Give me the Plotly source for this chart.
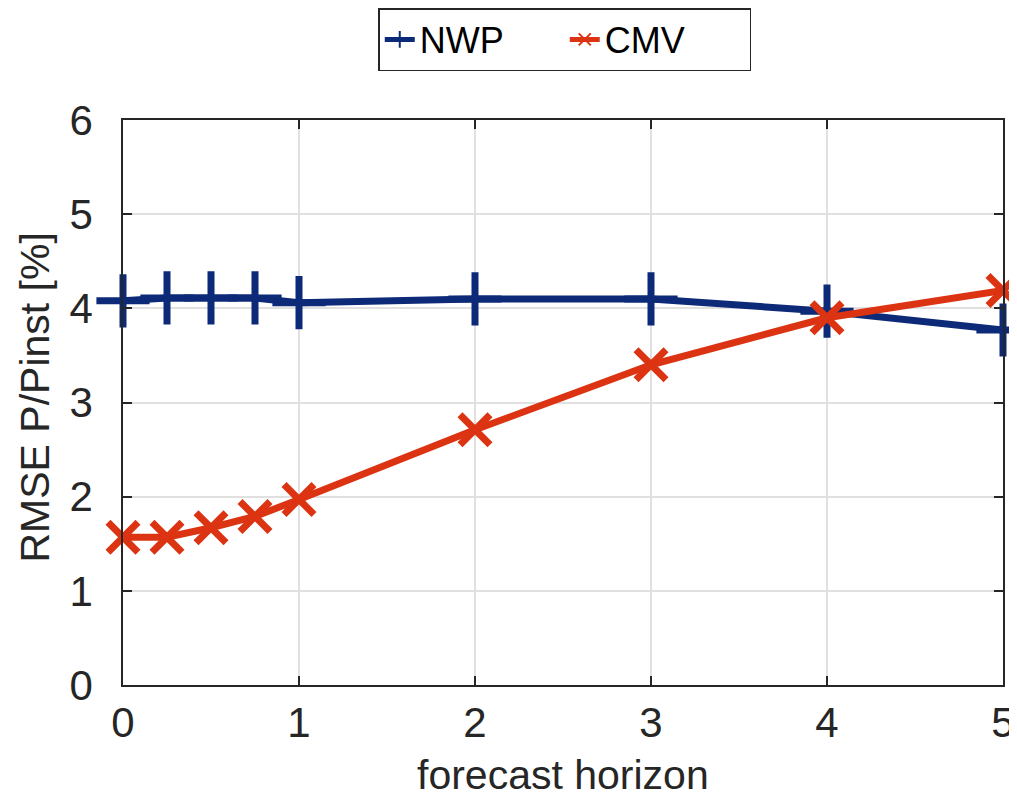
import plotly.graph_objects as go

horizon = [0, 0.25, 0.5, 0.75, 1, 2, 3, 4, 5]
nwp = [4.08, 4.11, 4.11, 4.11, 4.06, 4.10, 4.10, 3.97, 3.77]
cmv = [1.57, 1.57, 1.67, 1.79, 1.97, 2.71, 3.40, 3.90, 4.19]

NWP_C = "#0d2a78"
CMV_C = "#dc3412"
FONT = "Liberation Sans, Arial, sans-serif"

fig = go.Figure()
fig.add_trace(go.Scatter(
    x=horizon, y=nwp, name="NWP", mode="lines+markers",
    line=dict(color=NWP_C, width=7),
    marker=dict(symbol="cross-thin", size=38, line=dict(color=NWP_C, width=7)),
    cliponaxis=False,
))
fig.add_trace(go.Scatter(
    x=horizon, y=cmv, name="CMV", mode="lines+markers",
    line=dict(color=CMV_C, width=7),
    marker=dict(symbol="x-thin", size=30, line=dict(color=CMV_C, width=7)),
    cliponaxis=False,
))

axis_common = dict(
    showline=True, linecolor="#262626", linewidth=1.5, mirror="ticks",
    ticks="inside", ticklen=9, tickwidth=1.5, tickcolor="#262626",
    showgrid=True, gridcolor="#e0e0e0", gridwidth=1.5, zeroline=False,
    tickfont=dict(family=FONT, size=42, color="#262626"),
    automargin=False,
)

fig.update_layout(
    width=1009, height=790,
    margin=dict(l=115, r=14, t=112, b=113),
    paper_bgcolor="white", plot_bgcolor="white",
    font=dict(family=FONT, color="#262626"),
    showlegend=True,
    legend=dict(
        orientation="h", x=0.502, xanchor="center", y=1.0, yanchor="top",
        yref="container", font=dict(family=FONT, size=36, color="black"),
        bordercolor="#262626", borderwidth=1.5, bgcolor="white",
        itemsizing="constant", tracegroupgap=0, entrywidth=140,
    ),
    xaxis=dict(range=[0, 5], tickvals=[0, 1, 2, 3, 4, 5], ticklabelstandoff=0,
               **axis_common),
    yaxis=dict(range=[0, 6], tickvals=[0, 1, 2, 3, 4, 5, 6], ticklabelstandoff=20,
               **axis_common),
    annotations=[
        dict(text="forecast horizon", xref="paper", yref="paper", x=0.5, y=0,
             xanchor="center", yanchor="middle", yshift=-90, showarrow=False,
             font=dict(family=FONT, size=41, color="#262626")),
        dict(text="RMSE P/Pinst [%]", xref="paper", yref="paper", x=0, y=0.5,
             xanchor="center", yanchor="middle", xshift=-89, yshift=5, textangle=-90,
             showarrow=False, font=dict(family=FONT, size=41, color="#262626")),
    ],
)

fig.write_html("out.html")
